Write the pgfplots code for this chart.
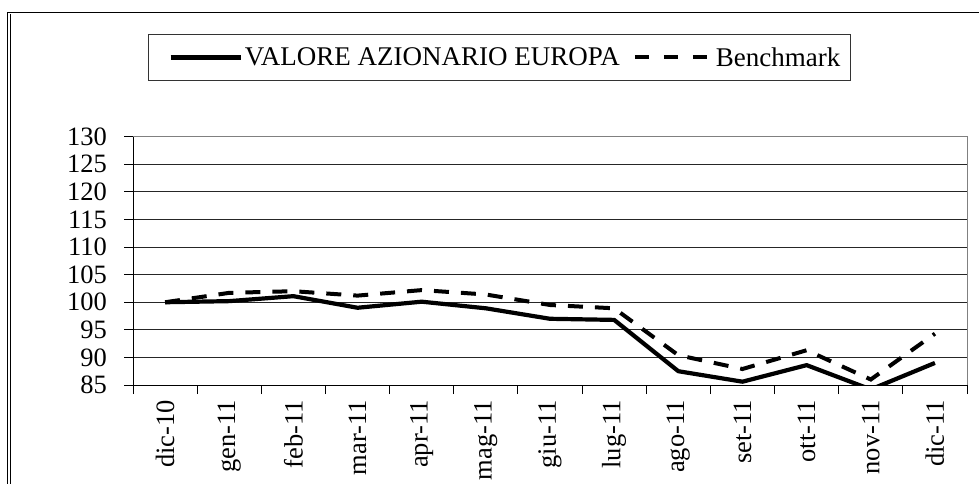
\documentclass[border=0pt]{standalone}
\usepackage{pgfplots}
\pgfplotsset{compat=1.18}
\usepackage{fontspec}
\setmainfont{Liberation Serif}
\begin{document}
\begin{tikzpicture}[x=1pt,y=1pt]
\useasboundingbox (0,0) rectangle (979,-484);
\draw[line width=1.2pt] (7.3,-12.3) -- (979,-12.3);
\draw[line width=1pt] (7.3,-12.3) -- (7.3,-484);
\draw[line width=1pt] (10.3,-14.5) -- (10.3,-484);
\begin{axis}[
  at={(133pt,-385pt)}, anchor=south west,
  scale only axis, width=834pt, height=248.3pt,
  xmin=-0.5, xmax=12.5, ymin=85, ymax=130,
  axis x line*=bottom, axis y line*=left,
  axis line style={line width=1pt, black},
  xtick={-0.5,0.5,...,12.5}, xticklabels={},
  extra x ticks={0,1,...,12},
  extra x tick labels={dic-10,gen-11,feb-11,mar-11,apr-11,mag-11,giu-11,lug-11,ago-11,set-11,ott-11,nov-11,dic-11},
  extra x tick style={tick style={draw=none}, grid=none},
  ytick={85,90,...,130},
  ymajorgrids, grid style={line width=0.8pt, black!85},
  tick align=outside, major tick length=9pt,
  tick style={line width=1pt, black},
  xticklabel style={rotate=90, anchor=east, inner sep=0pt, font=\fontsize{26.5}{26.5}\selectfont},
  xticklabel shift=6pt,
  yticklabel style={inner sep=0pt, font=\fontsize{26.5}{26.5}\selectfont},
  yticklabel shift=17pt,
  /pgf/number format/assume math mode=true,
  legend columns=2,
  legend style={at={(0.4394,1.319)}, anchor=center, draw=black!80, line width=1pt,
    font=\fontsize{27}{27}\selectfont, inner xsep=8pt, inner ysep=10.5pt,
    /tikz/every even column/.append style={column sep=11pt}},
  after end axis/.code={\draw[gray, line width=1pt] (rel axis cs:0,1) -- (rel axis cs:1,1) -- (rel axis cs:1,0);},
]
\addplot[black, line width=4.2pt, line join=round,
  legend image code/.code={\path (-12pt,0pt); \draw[black, line width=4.2pt] (0pt,0pt) -- (70pt,0pt);}]
  coordinates {(0,100) (1,100.2) (2,101.1) (3,99.0) (4,100.1) (5,98.9) (6,97.0) (7,96.8) (8,87.5) (9,85.6) (10,88.6) (11,84.2) (12,89.0)};
\addlegendentry{VALORE AZIONARIO EUROPA}
\addplot[black, line width=4pt, dash pattern=on 15pt off 12pt,
  legend image code/.code={\draw[black, line width=4pt, dash pattern=on 14pt off 15pt] (0pt,0pt) -- (77pt,0pt);}]
  coordinates {(0,100) (1,101.7) (2,102.0) (3,101.2) (4,102.2) (5,101.4) (6,99.5) (7,98.9) (8,90.4) (9,87.9) (10,91.3) (11,86.0) (12,94.3)};
\addlegendentry{Benchmark}
\end{axis}
\end{tikzpicture}
\end{document}
